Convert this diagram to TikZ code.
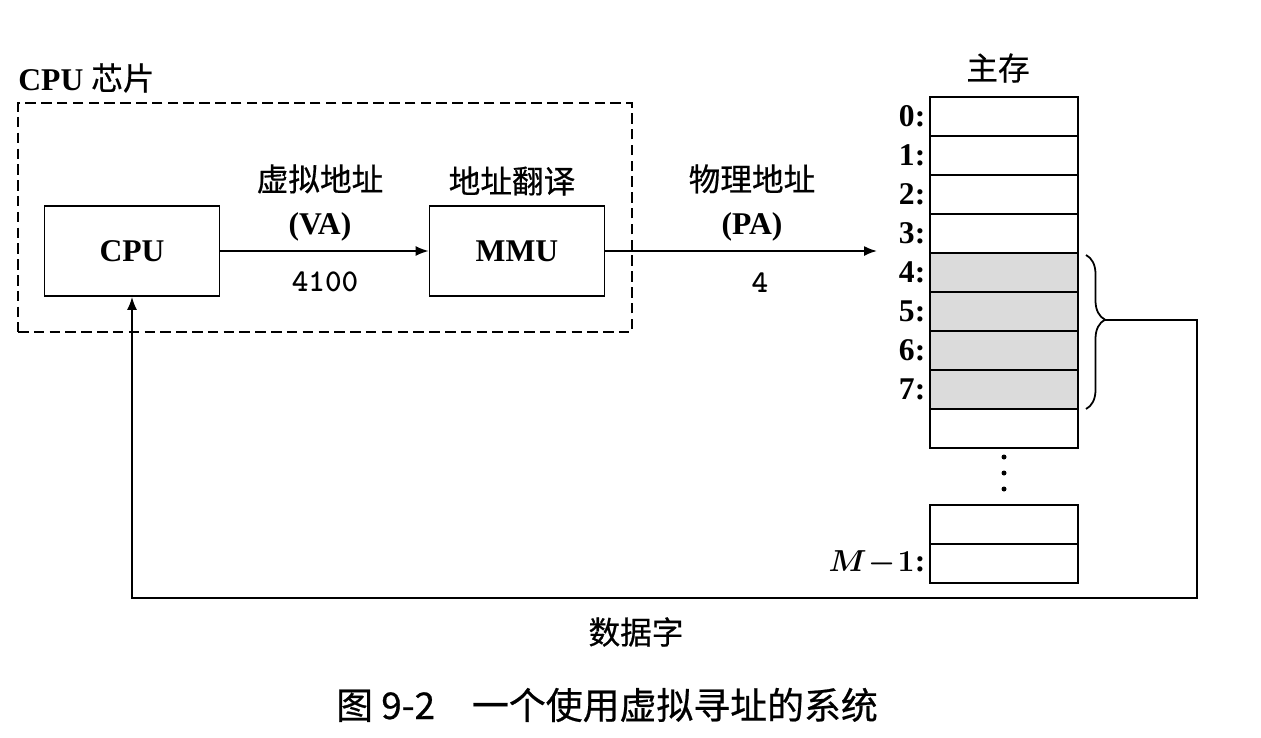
\documentclass[tikz,border=0pt]{standalone}
\usepackage{fontspec}
\setmainfont{Liberation Serif}
\newfontfamily\cjk{Noto Sans CJK SC}[BoldFont=Noto Sans CJK SC, BoldFeatures={FakeBold=0.6}]
\usetikzlibrary{arrows.meta,positioning,decorations.pathreplacing}

\begin{document}
\begin{tikzpicture}[
    x=0.02cm, y=-0.02cm,
    font=\fontsize{18}{25}\selectfont\bfseries,
    unit/.style={draw, line width=1pt, minimum width=3.5cm, minimum height=1.8cm},
    chipbox/.style={draw, line width=1pt, dash pattern=on 6pt off 3pt, minimum width=12.28cm, minimum height=4.58cm},
    cell/.style={draw, line width=1pt, minimum width=2.96cm, minimum height=0.78cm, inner sep=0pt},
    used/.style={cell, fill=gray!28},
    addr/.style={anchor=east, inner sep=0pt},
    tag/.style={align=center, inner sep=1pt},
    hanzi/.style={tag, font=\cjk\fontsize{18}{25}\selectfont\bfseries},
    arrow/.style={-{Latex[length=2.6mm,width=2mm]}, line width=1pt}
  ]
    \useasboundingbox (0,0) rectangle (1261,737);
    \node[chipbox] (chip) at (325,217.5) {};
    \node[anchor=west, inner sep=0pt] (chiplbl) at (18,78) {CPU {\cjk 芯片}};
    \node[unit] (cpu) at (132,251) {CPU};
    \node[unit] (mmu) at (517,251) {MMU};
    \draw[arrow] (cpu) -- (mmu);
    \node[tag] (va) at (320,203) {{\cjk 虚拟地址}\\(VA)};
    \node[tag] (vaval) at (325,282) {\texttt{4100}};
    \node[hanzi] (xlat) at (512,181) {地址翻译};
    % main memory
    \node[hanzi] (mem) at (998,68) {主存};
    \foreach \i in {0,1,2,3,8}
      \node[cell] (m\i) at (1004,116.5+39*\i) {};
    \foreach \i in {4,...,7}
      \node[used] (m\i) at (1004,116.5+39*\i) {};
    \foreach \i in {0,...,7}
      \node[addr] (a\i) at ([xshift=-0.07cm]m\i.west) {\i:};
    \node[cell] (mx) at (1004,524.5) {};
    \node[cell] (mlast) at (1004,563.5) {};
    \node[addr] (alast) at ([xshift=-0.07cm]mlast.west) {{\boldmath$M\!-\!1$}:};
    \foreach \y/\n in {457/d1,473/d2,489/d3}
      \fill (1004,\y) circle (0.05cm) coordinate (\n);
    \coordinate (pa) at (877,251);
    \draw[arrow] (mmu) -- (pa);
    \node[tag] (pa lbl) at (752,203) {{\cjk 物理地址}\\(PA)};
    \node[tag] (paval) at (760,283) {\texttt{4}};
    % word returned to the CPU
    \draw[line width=1pt, decorate, decoration={brace, amplitude=0.38cm, aspect=0.42}] (1086,255) -- (1086,409);
    \coordinate (tip) at (1105,320);
    \coordinate (ret) at (1197,598);
    \draw[arrow] (tip) -| (ret) -| (cpu.south);
    \node[hanzi] (word) at (636,632) {数据字};
    \node[hanzi, font=\cjk\fontsize{21}{25}\selectfont\bfseries] (caption) at (607,705) {图 9-2\quad 一个使用虚拟寻址的系统};
  \end{tikzpicture}
\end{document}
